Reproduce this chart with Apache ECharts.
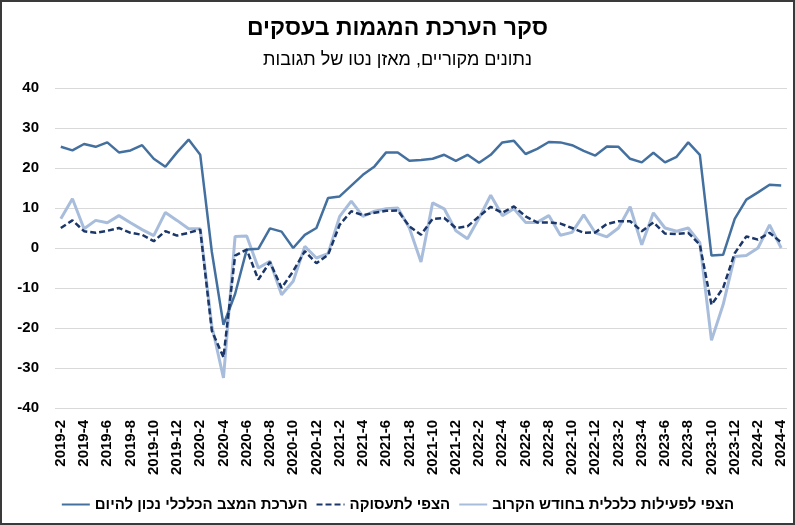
<!DOCTYPE html>
<html>
<head>
<meta charset="utf-8">
<script src="https://cdn.jsdelivr.net/npm/echarts@6/dist/echarts.min.js"></script>
<style>
html, body { margin: 0; padding: 0; background: #fff; }
#chart { width: 795px; height: 525px; }
</style>
</head>
<body>
<div id="chart"></div>
<script>
// months, 2019-2 .. 2024-4
var months = [
  '2019-2','2019-3','2019-4','2019-5','2019-6','2019-7','2019-8','2019-9','2019-10','2019-11','2019-12',
  '2020-1','2020-2','2020-3','2020-4','2020-5','2020-6','2020-7','2020-8','2020-9','2020-10','2020-11','2020-12',
  '2021-1','2021-2','2021-3','2021-4','2021-5','2021-6','2021-7','2021-8','2021-9','2021-10','2021-11','2021-12',
  '2022-1','2022-2','2022-3','2022-4','2022-5','2022-6','2022-7','2022-8','2022-9','2022-10','2022-11','2022-12',
  '2023-1','2023-2','2023-3','2023-4','2023-5','2023-6','2023-7','2023-8','2023-9','2023-10','2023-11','2023-12',
  '2024-1','2024-2','2024-3','2024-4'
];

// הערכת המצב הכלכלי נכון להיום
var currentState = [
  25.3, 24.4, 26.0, 25.3, 26.4, 23.9, 24.4, 25.7, 22.3, 20.3, 23.9,
  27.1, 23.3, -1.0, -19.2, -11.5, -0.4, -0.2, 4.9, 4.1, 0.0, 3.3, 5.0,
  12.5, 12.9, 15.6, 18.3, 20.4, 23.9, 23.9, 21.8, 22.0, 22.3, 23.3, 21.8,
  23.3, 21.3, 23.3, 26.4, 26.8, 23.5, 24.8, 26.5, 26.4, 25.7, 24.3, 23.1,
  25.4, 25.3, 22.3, 21.4, 23.8, 21.4, 22.8, 26.4, 23.3, -1.9, -1.7, 7.3,
  12.1, 13.9, 15.8, 15.6
];

// הצפי לתעסוקה
var employment = [
  5.0, 6.9, 4.2, 3.8, 4.3, 5.0, 3.8, 3.3, 1.7, 4.2, 3.1,
  3.8, 4.6, -20.7, -27.3, -1.9, -0.4, -7.9, -3.5, -10.0, -5.8, -0.8, -3.8,
  -1.7, 5.8, 9.2, 8.2, 8.8, 9.3, 9.4, 5.4, 3.3, 7.3, 7.5, 5.0,
  5.4, 7.9, 10.3, 8.8, 10.4, 7.9, 6.4, 6.4, 6.1, 5.0, 3.8, 3.9,
  6.0, 6.7, 6.7, 4.2, 6.4, 3.6, 3.5, 3.8, 0.8, -14.2, -10.0, -1.3,
  2.9, 2.1, 3.8, 1.4
];

// הצפי לפעילות כלכלית בחודש הקרוב
var nextMonth = [
  7.3, 12.3, 4.8, 6.9, 6.3, 8.1, 6.3, 4.6, 3.1, 8.9, 6.9,
  4.8, 4.8, -19.5, -32.5, 2.9, 3.0, -5.0, -3.3, -11.7, -8.3, 0.4, -2.5,
  -1.4, 7.9, 11.7, 7.9, 9.2, 9.8, 10.0, 5.0, -3.5, 11.3, 9.8, 4.3,
  2.3, 7.5, 13.2, 8.1, 9.8, 6.4, 6.4, 8.1, 3.2, 3.9, 8.3, 3.8,
  2.8, 5.0, 10.3, 0.8, 8.8, 5.0, 4.2, 5.0, 1.3, -23.1, -14.2, -2.1,
  -1.9, 0.0, 5.8, 0.0
];

var seriesNames = [
  'הערכת המצב הכלכלי נכון להיום',
  'הצפי לתעסוקה',
  'הצפי לפעילות כלכלית בחודש הקרוב'
];

var font = 'Liberation Sans, Arial, sans-serif';

var chart = echarts.init(document.getElementById('chart'));

var option = {
  backgroundColor: '#fff',
  animation: false,
  title: [
    {
      text: 'סקר הערכת המגמות בעסקים',
      left: 'center',
      top: 12,
      textStyle: { fontFamily: font, fontSize: 23, fontWeight: 'bold', color: '#000' }
    },
    {
      text: 'נתונים מקוריים, מאזן נטו של תגובות',
      left: 'center',
      top: 46,
      textStyle: { fontFamily: font, fontSize: 18, fontWeight: 'normal', color: '#000' }
    }
  ],
  graphic: [{
    type: 'rect',
    shape: { x: 1, y: 1, width: 793, height: 523 },
    style: { fill: null, stroke: '#3a3a3a', lineWidth: 2 },
    silent: true
  }],
  legend: {
    data: seriesNames,
    bottom: 8,
    left: 'center',
    itemGap: 8,
    itemWidth: 28,
    itemHeight: 10,
    itemStyle: { opacity: 0 },
    textStyle: { fontFamily: font, fontSize: 15, fontWeight: 'bold', color: '#000' }
  },
  grid: { left: 55, right: 8, top: 88, bottom: 117 },
  xAxis: {
    type: 'category',
    data: months,
    boundaryGap: true,
    axisLine: { show: false },
    axisTick: { show: false },
    axisLabel: {
      interval: 1,
      rotate: 90,
      margin: 12,
      fontFamily: font,
      fontSize: 15,
      fontWeight: 'bold',
      color: '#000'
    }
  },
  yAxis: {
    type: 'value',
    min: -40,
    max: 40,
    interval: 10,
    axisLine: { show: false },
    axisTick: { show: false },
    axisLabel: {
      margin: 16,
      fontFamily: font,
      fontSize: 15,
      fontWeight: 'bold',
      color: '#000'
    },
    splitLine: { lineStyle: { color: '#d9d9d9', width: 1 } }
  },
  series: [
    {
      name: seriesNames[0],
      type: 'line',
      data: currentState,
      symbol: 'none',
      z: 3,
      lineStyle: { color: '#44709f', width: 2.5 },
      itemStyle: { color: '#44709f' }
    },
    {
      name: seriesNames[1],
      type: 'line',
      data: employment,
      symbol: 'none',
      z: 4,
      lineStyle: { color: '#1b3668', width: 2.5, type: [6, 3] },
      itemStyle: { color: '#1b3668' }
    },
    {
      name: seriesNames[2],
      type: 'line',
      data: nextMonth,
      symbol: 'none',
      z: 2,
      lineStyle: { color: '#a8bddb', width: 3 },
      itemStyle: { color: '#a8bddb' }
    }
  ]
};

chart.setOption(option);
</script>
</body>
</html>
